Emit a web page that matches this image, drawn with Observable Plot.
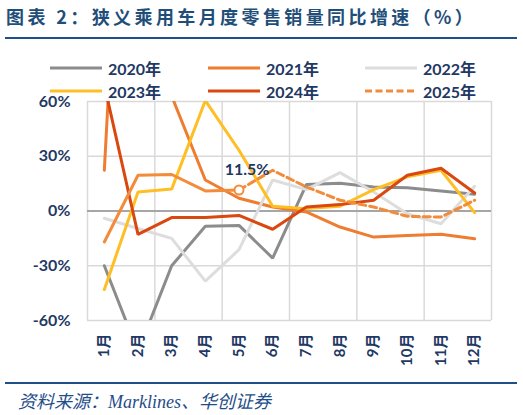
<!DOCTYPE html>
<html>
<head>
<meta charset="utf-8">
<script src="https://cdn.jsdelivr.net/npm/d3@7"></script>
<script src="https://cdn.jsdelivr.net/npm/@observablehq/plot@0.6"></script>
<style>
  html, body { margin: 0; padding: 0; background: #fff; }
  #wrap { position: relative; width: 523px; height: 415px; overflow: hidden; font-family: Lato, "Noto Sans CJK SC", sans-serif; }
  #title { position: absolute; left: 6px; top: 3px; font-family: "Noto Sans CJK SC", sans-serif; font-weight: 700; font-size: 18px; letter-spacing: 3.4px; color: #1F4E79; white-space: nowrap; }
  .rule { position: absolute; left: 5px; width: 512px; height: 2px; background: #1F4E89; }
  #chart { position: absolute; left: 0; top: 92px; }
  .leg { position: absolute; height: 20px; display: flex; align-items: center; font-weight: 700; font-size: 16px; color: #1F3864; white-space: nowrap; z-index: 2; }
  .leg svg { margin-right: 6px; }
  #source { position: absolute; left: 18px; top: 387px; font-family: "Liberation Serif", "Noto Sans CJK SC", serif; font-style: italic; font-size: 18px; color: #1F4E89; white-space: nowrap; }
</style>
</head>
<body>
<div id="wrap">
  <div id="title">图表 2：狭义乘用车月度零售销量同比增速（%）</div>
  <div class="rule" style="top:37px"></div>
  <div id="legend"></div>
  <div id="chart"></div>
  <div class="rule" style="top:382px"></div>
  <div id="source">资料来源：Marklines、华创证券</div>
</div>
<script>
// ---- data ----
const months = [1, 2, 3, 4, 5, 6, 7, 8, 9, 10, 11, 12];
const yearNames = ["2020年", "2021年", "2022年", "2023年", "2024年", "2025年"];
const s2020 = [-30, -77, -30, -8.4, -7.9, -25.8, 14.5, 15.2, 13.2, 12.8, 11, 9.2];
const s2021 = [22.3, 367, 63, 17, 7, 2.2, -0.5, -8.8, -14.3, -13.4, -12.8, -15.2];
const s2022 = [-4, -9.6, -15, -38.4, -21.2, 17, 11.7, 21, 10.4, -1.5, -7, 13.5];
const s2023 = [-43, 10.4, 12, 60.5, 33.3, 2.6, 1.3, 2.6, 11.7, 18.7, 22.3, -0.9];
const s2024 = [69, -12.8, -3.6, -3.5, -2.4, -10, 2.2, 3.5, 5.9, 19.6, 23.4, 9.9];
const s2025 = [-17, 19.6, 20, 11, 11.5, 22.3, 13.2, 5.9, 2.2, -2.9, -3.3, 5.9];
const s2025ActualThrough = 5; // months up to here drawn solid, after it dashed
const yTicks = [-60, -30, 0, 30, 60];
const monthLabel = m => m + "月";

// ---- styles ----
const navy = "#1F3864";
const colors = ["#8C8C8C", "#EE7D31", "#DDDDDD", "#FFBF24", "#D9480F", "#F28C3A"];
const series = [s2020, s2021, s2022, s2023, s2024, s2025];

// ---- legend (HTML) ----
const legendPos = [
  {left: 50, top: 58}, {left: 208, top: 58}, {left: 365, top: 58},
  {left: 50, top: 81}, {left: 208, top: 81}, {left: 365, top: 81}
];
const legend = document.getElementById("legend");
yearNames.forEach((name, i) => {
  const div = document.createElement("div");
  div.className = "leg";
  div.style.left = legendPos[i].left + "px";
  div.style.top = legendPos[i].top + "px";
  const dash = i === 5 ? ' stroke-dasharray="7 3.5"' : '';
  div.innerHTML = `<svg width="52" height="6"><line x1="0" y1="3" x2="52" y2="3" stroke="${colors[i]}" stroke-width="3.2"${dash}/></svg><span>${name}</span>`;
  legend.appendChild(div);
});

// ---- table for plot ----
const rows = [];
series.forEach((s, i) => s.forEach((v, j) => rows.push({year: yearNames[i], idx: i, month: months[j], value: v})));
const solidRows = rows.filter(d => !(d.idx === 5 && d.month > s2025ActualThrough));
const dashedRows = rows.filter(d => d.idx === 5 && d.month >= s2025ActualThrough);
const marker = [{month: s2025ActualThrough, value: s2025[s2025ActualThrough - 1]}];

const chart = Plot.plot({
  width: 523,
  height: 285,
  marginTop: 9,
  marginBottom: 57,
  marginLeft: 87,
  marginRight: 32,
  style: {fontFamily: 'Lato, "Noto Sans CJK SC", sans-serif', background: "transparent", overflow: "visible"},
  x: {domain: [0.5, 12.5]},
  y: {domain: [-60, 60]},
  marks: [
    Plot.gridX(d3.range(0.5, 13, 2), {stroke: "#D9D9D9", strokeOpacity: 1, strokeWidth: 1.5}),
    Plot.gridY(yTicks.filter(t => t !== 0), {stroke: "#D9D9D9", strokeOpacity: 1, strokeWidth: 1.5}),
    Plot.ruleY([0], {stroke: "#A6A6A6", strokeWidth: 2}),
    Plot.axisY(yTicks, {tickSize: 0, tickPadding: 17, tickFormat: d => d + "%", fontSize: 16, fontWeight: "bold", fill: navy, label: null}),
    Plot.axisX(months, {tickSize: 0, tickPadding: 13, tickRotate: -90, tickFormat: monthLabel, fontSize: 15, fontWeight: "bold", fill: navy, label: null}),
    Plot.line(solidRows, {x: "month", y: "value", z: "year", stroke: d => colors[d.idx], strokeWidth: 3, clip: true, strokeLinejoin: "miter"}),
    Plot.line(dashedRows, {x: "month", y: "value", stroke: colors[5], strokeWidth: 3, strokeDasharray: "7 4", clip: true}),
    Plot.dot(marker, {x: "month", y: "value", r: 4.5, fill: "white", stroke: colors[5], strokeWidth: 2}),
    Plot.text(marker, {x: "month", y: "value", text: d => d.value + "%", dx: 8, dy: -20, fontSize: 16, fontWeight: "bold", fill: navy})
  ]
});
document.getElementById("chart").appendChild(chart);
</script>
</body>
</html>
